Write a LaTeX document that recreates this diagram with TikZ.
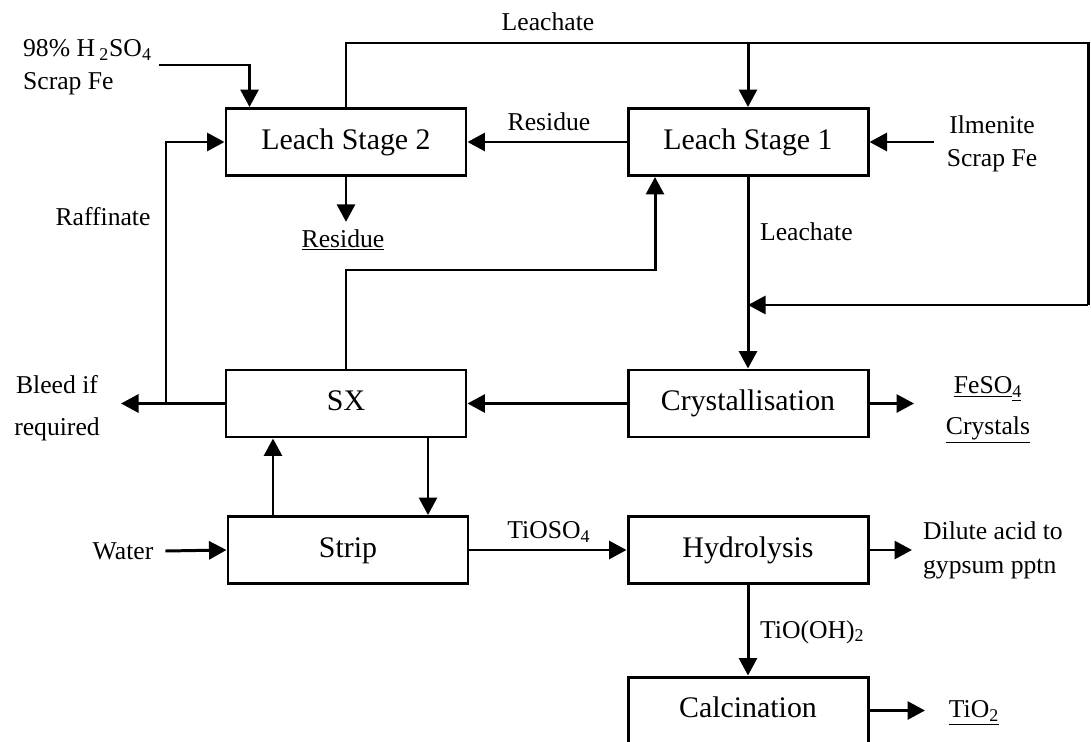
\documentclass[tikz,border=0pt]{standalone}
\usepackage{fontspec}
\setmainfont{Liberation Serif}
\usetikzlibrary{arrows.meta}

\begin{document}
\begin{tikzpicture}[
  unit/.style={draw,line width=1.7pt,minimum width=4.8cm,minimum height=1.34cm,text height=1.9ex,text depth=.1ex,font=\fontsize{17}{20}\selectfont},
  lbl/.style={font=\fontsize{14.6}{19}\selectfont,inner sep=1pt},
  pipe/.style={line width=1.7pt},
  flow/.style={pipe,-{Triangle[length=3.5mm,width=3.6mm]}}]
\useasboundingbox (0,0) rectangle (21.82,-14.84);
\clip (0,0) rectangle (21.82,-14.84);

\node[unit] (ls2) at (6.92,-2.84) {Leach Stage 2};
\node[unit] (ls1) at (14.96,-2.84) {Leach Stage 1};
\node[unit] (sx) at (6.92,-8.07) {SX};
\node[unit] (cryst) at (14.96,-8.07) {Crystallisation};
\node[unit] (strip) at (6.96,-11.0) {Strip};
\node[unit] (hydro) at (14.96,-11.0) {Hydrolysis};
\node[unit] (calc) at (14.96,-14.21) {Calcination};

\node[lbl,align=left,anchor=west] (acid) at (0.42,-1.35) {98\% H\,\textsubscript{2}SO\textsubscript{4}\\Scrap Fe};
\node[lbl] (leachtop) at (10.96,-0.44) {Leachate};
\node[lbl] (res1) at (10.98,-2.44) {Residue};
\node[lbl,align=center] (ilm) at (19.84,-2.88) {Ilmenite\\Scrap Fe};
\node[lbl,inner sep=4pt] (res2) at (6.86,-4.8) {\underline{Residue}};
\node[lbl] (raff) at (2.06,-4.34) {Raffinate};
\node[lbl,anchor=west] (leach) at (15.16,-4.64) {Leachate};
\node[lbl,align=center,font=\fontsize{14.6}{24}\selectfont] (bleed) at (1.14,-8.16) {Bleed if\\required};
\node[lbl,align=center] (feso) at (19.76,-8.2) {\underline{FeSO}\textsubscript{\underline{4}}\\[4pt]\underline{Crystals}};
\node[lbl] (water) at (2.46,-11.02) {Water};
\node[lbl] (tioso) at (10.98,-10.64) {TiOSO\textsubscript{4}};
\node[lbl,align=left,anchor=west] (acidout) at (18.42,-11.01) {Dilute acid to\\gypsum pptn};
\node[lbl,anchor=west] (tiooh) at (15.16,-12.64) {TiO(OH)\textsubscript{2}};
\node[lbl] (tio) at (19.48,-14.26) {\underline{TiO\textsubscript{2}}};

\coordinate (acidin) at (3.18,-1.3);
\coordinate (topR) at (21.76,-0.86);
\coordinate (sideR) at (21.76,-6.1);
\coordinate (ilmin) at (18.68,-2.84);
\coordinate (raf) at (3.32,-8.07);
\coordinate (bleedpt) at (2.42,-8.07);
\coordinate (elb) at (13.1,-5.4);
\coordinate (crysout) at (18.28,-8.07);
\coordinate (hydout) at (18.24,-11.0);
\coordinate (calcout) at (18.5,-14.21);

\draw[flow] (acidin) -| ([xshift=0.5cm]ls2.north west);
\draw[pipe] (ls2.north) |- (topR) -- (sideR);
\draw[flow] (ls1.north |- topR) -- (ls1.north);
\draw[flow] (sideR) -- (sideR -| ls1.south);
\draw[flow] (ls1.west) -- (ls2.east);
\draw[flow] (ilmin) -- (ls1.east);
\draw[flow] (ls2.south) -- (ls2.south |- res2.north);
\draw[flow] (raf) |- (ls2.west);
\draw[flow] (sx.west) -- (bleedpt);
\draw[flow] (sx.north) |- (elb) -- (elb |- ls1.south);
\draw[flow] (ls1.south) -- (cryst.north);
\draw[flow] (cryst.west) -- (sx.east);
\draw[flow] (cryst.east) -- (crysout);
\draw[flow] ([xshift=1.64cm]sx.south) -- ([xshift=1.64cm]sx.south |- strip.north);
\draw[flow] ([xshift=-1.46cm]sx.south |- strip.north) -- ([xshift=-1.46cm]sx.south);
\draw[flow] ([xshift=0.2cm]water.east) -- (strip.west);
\draw[flow] (strip.east) -- (hydro.west);
\draw[flow] (hydro.east) -- (hydout);
\draw[flow] (hydro.south) -- (calc.north);
\draw[flow] (calc.east) -- (calcout);

\end{tikzpicture}
\end{document}
